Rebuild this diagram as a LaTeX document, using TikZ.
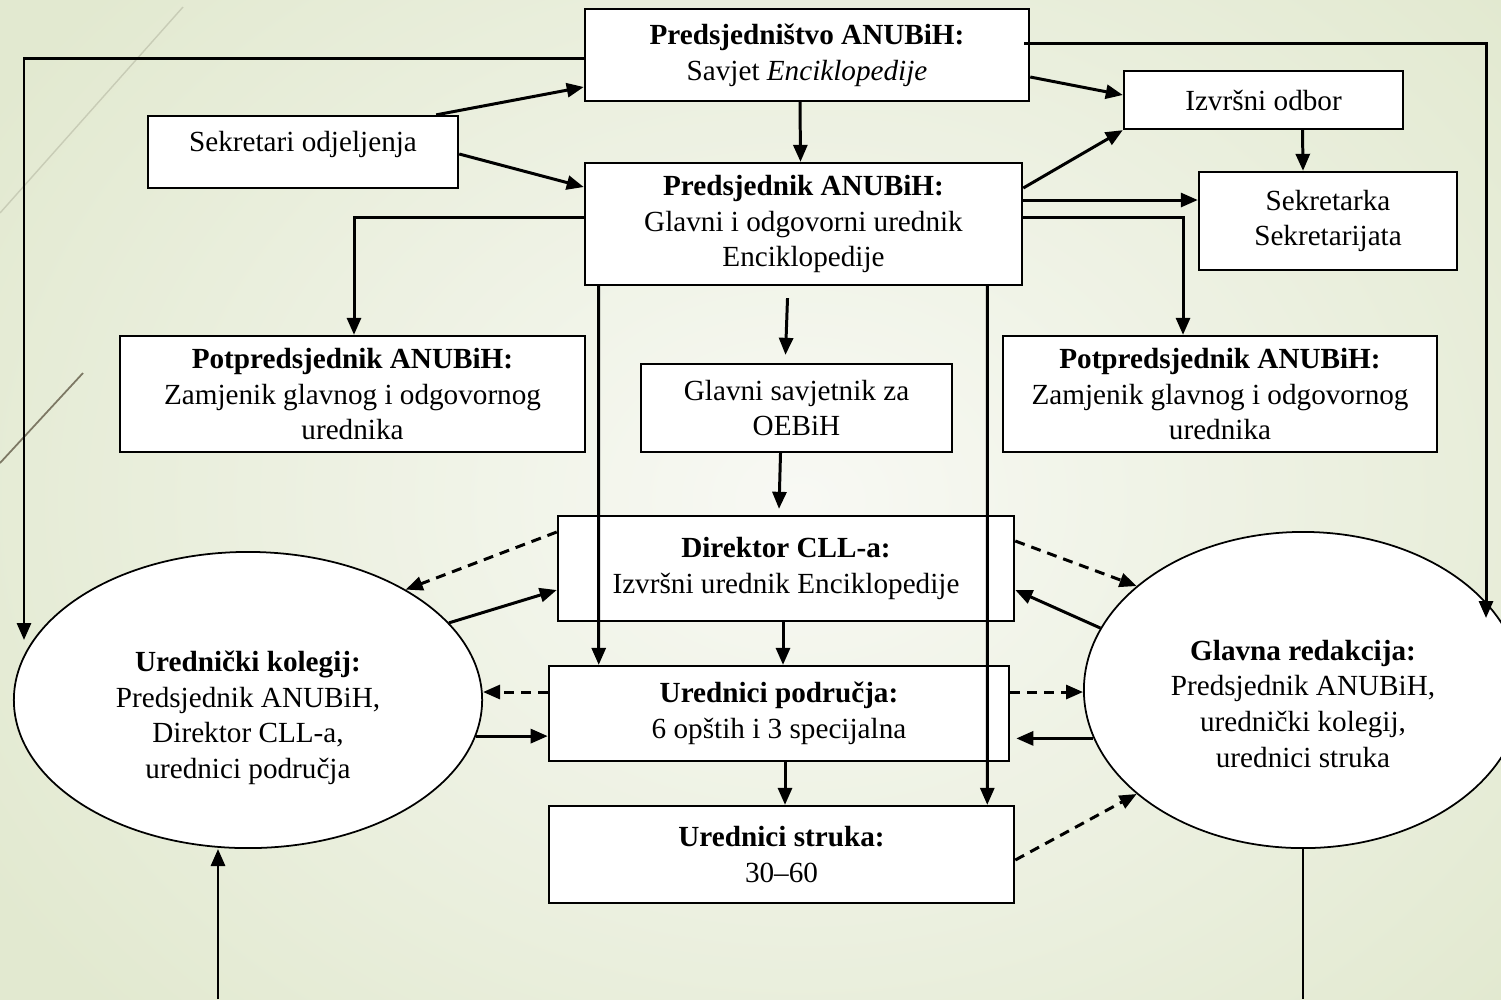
\documentclass[tikz,border=0pt]{standalone}
\usepackage{fontspec}
\setmainfont{Liberation Serif}
\usetikzlibrary{arrows.meta,calc,shapes.geometric}
\definecolor{bgouter}{RGB}{226,233,208}
\definecolor{bgmid}{RGB}{248,249,244}
\definecolor{decolight}{RGB}{200,204,182}
\definecolor{decodark}{RGB}{125,120,100}
\tikzset{
  box/.style={draw,fill=white,line width=0.65pt,align=center,inner sep=0pt,
    font=\fontsize{8.3}{10.2}\selectfont},
  oval/.style={box,ellipse,line width=0.5pt},
  arr/.style={line width=0.85pt,-{Triangle[length=0.17cm,width=0.14cm]}},
  dasharr/.style={arr,dash pattern=on 0.1cm off 0.07cm}
}
\begin{document}
\begin{tikzpicture}[x=0.01cm,y=-0.01cm]
  \useasboundingbox (0,0) rectangle (1501,999);
  \shade[inner color=bgmid,outer color=bgouter] (-150,-250) rectangle (1750,1250);
  \draw[decolight,line width=0.4pt] (183,7) -- (0,213);
  \draw[decodark,line width=0.5pt] (83,373) -- (0,463);
  \node[box,minimum width=4.44cm,minimum height=0.92cm] (pdstvo) at (807,55)
    {\textbf{Predsjedništvo ANUBiH:}\\Savjet \textit{Enciklopedije}};
  \node[box,minimum width=3.10cm,minimum height=0.72cm] (sekodj) at (303,152)
    {Sekretari odjeljenja\rule[-0.21cm]{0pt}{0.21cm}};
  \node[box,minimum width=2.79cm,minimum height=0.58cm] (izvodb) at (1263.5,100)
    {Izvršni odbor};
  \node[box,minimum width=4.37cm,minimum height=1.22cm] (pdsj) at (803.5,224)
    {\textbf{Predsjednik ANUBiH:}\\Glavni i odgovorni urednik\\Enciklopedije};
  \node[box,minimum width=2.58cm,minimum height=0.98cm] (sekr) at (1328,221)
    {Sekretarka\\Sekretarijata};
  \node[box,minimum width=4.65cm,minimum height=1.16cm] (ppl) at (352.5,394)
    {\textbf{Potpredsjednik ANUBiH:}\\Zamjenik glavnog i odgovornog\\urednika};
  \node[box,minimum width=3.11cm,minimum height=0.88cm] (glsav) at (796.5,408)
    {Glavni savjetnik za\\OEBiH};
  \node[box,minimum width=4.34cm,minimum height=1.16cm] (ppr) at (1220,394)
    {\textbf{Potpredsjednik ANUBiH:}\\Zamjenik glavnog i odgovornog\\urednika};
  \node[box,minimum width=4.56cm,minimum height=1.05cm] (dir) at (786,568.5)
    {\textbf{Direktor CLL-a:}\\Izvršni urednik Enciklopedije};
  \node[box,minimum width=4.60cm,minimum height=0.95cm] (urpod) at (779,713.5)
    {\textbf{Urednici područja:}\\6 opštih i 3 specijalna};
  \node[box,minimum width=4.65cm,minimum height=0.97cm] (urstr) at (781.5,854.5)
    {\textbf{Urednici struka:}\\30--60};
  \node[oval,minimum width=4.68cm,minimum height=2.96cm] (kolegij) at (248,700)
    {\rule{0pt}{0.56cm}\textbf{Urednički kolegij:}\\Predsjednik ANUBiH,\\Direktor CLL-a,\\urednici područja};
  \node[oval,minimum width=4.38cm,minimum height=3.16cm] (redakcija) at (1303,690)
    {\rule{0pt}{0.48cm}\textbf{Glavna redakcija:}\\Predsjednik ANUBiH,\\urednički kolegij,\\urednici struka};
  \coordinate (kolin) at (24,640);
  \coordinate (redin) at (1486,618);
  \coordinate (kolbot) at (218,999);
  \coordinate (redbot) at (1303,999);
  \draw[arr] ($(pdstvo.west)+(0,3)$) -| (kolin);
  \draw[arr] ($(pdstvo.east)+(-6,-12)$) -| (redin);
  \draw[arr] ($(sekodj.north east)+(-23,0)$) -- ($(pdstvo.west)+(0,32)$);
  \draw[arr] ($(sekodj.east)+(0,2)$) -- ($(pdsj.west)+(0,-37)$);
  \draw[arr] ($(pdstvo.south)+(-7,0)$) -- ($(pdsj.north)+(-3,0)$);
  \draw[arr] ($(pdstvo.east)+(0,22)$) -- ($(izvodb.west)+(0,-5)$);
  \draw[arr] ($(pdsj.east)+(0,-36)$) -- (izvodb.south west);
  \draw[arr] ($(izvodb.south)+(39,0)$) -- ($(sekr.north)+(-25,0)$);
  \draw[arr] ($(pdsj.east)+(0,-24)$) -- ($(sekr.west)+(0,-21)$);
  \draw[arr] ($(pdsj.west)+(0,-7)$) -| ($(ppl.north)+(1.5,0)$);
  \draw[arr] ($(pdsj.east)+(0,-7)$) -| ($(ppr.north)+(-37,0)$);
  \draw[arr] ($(pdsj.south)+(-16,12)$) -- ($(glsav.north)+(-11,-8)$);
  \draw[arr] ($(glsav.south)+(-16,0)$) -- ($(dir.north)+(-7,-6)$);
  \draw[arr] ($(dir.south)+(-3,0)$) -- ($(urpod.north)+(4,0)$);
  \draw[arr] ($(urpod.south)+(6,0)$) -- ($(urstr.north)+(3.5,0)$);
  \draw[arr] ($(pdsj.south west)+(15,0)$) -- ($(urpod.north west)+(51,0)$);
  \draw[arr] ($(pdsj.south east)+(-36,0)$) -- ($(urstr.north east)+(-28,0)$);
  \draw[dasharr] ($(dir.west)+(0,-36.5)$) -- (kolegij.35);
  \draw[arr] (kolegij.21) -- ($(dir.west)+(0,21.5)$);
  \draw[dasharr] (urpod.west) ++(0,-21.5) coordinate (pdl) -- (kolegij.east |- pdl);
  \draw[arr] (kolegij.-9) -- (urpod.west |- kolegij.-9);
  \draw[arr] (kolbot) -- (kolbot |- kolegij.south);
  \draw[dasharr] ($(dir.east)+(0,-27.5)$) -- (redakcija.148);
  \draw[arr] (redakcija.163) -- ($(dir.east)+(0,21.5)$);
  \draw[dasharr] (urpod.east) ++(0,-21.5) coordinate (pdr) -- (redakcija.west |- pdr);
  \draw[arr,shorten >=0.06cm] (redakcija.193) -- (urpod.east |- redakcija.193);
  \draw[dasharr] ($(urstr.east)+(0,5.5)$) -- (redakcija.212);
  \draw[line width=0.5pt] (redakcija.south) -- (redbot);
\end{tikzpicture}
\end{document}
